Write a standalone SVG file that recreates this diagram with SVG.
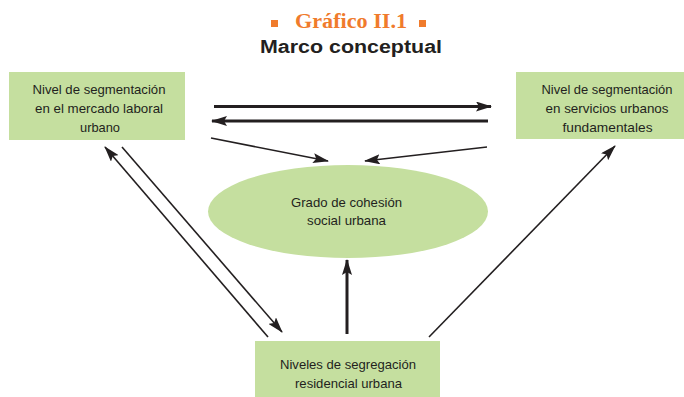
<svg xmlns="http://www.w3.org/2000/svg" width="684" height="397" viewBox="0 0 684 397">
<style>
.box{fill:#c5df9f;stroke:none}
.lbl{font-family:"Liberation Sans",Arial,sans-serif;font-size:13.4px;fill:#231f20;text-anchor:middle}
.thick{stroke:#231f20;stroke-width:3;fill:none}
.thin{stroke:#231f20;stroke-width:1.6;fill:none}
</style>
<defs>
<marker id="ah" viewBox="0 0 16 10" refX="15" refY="5" markerWidth="17" markerHeight="10" orient="auto" markerUnits="userSpaceOnUse">
<path d="M0,0 L16,5 L0,10 L3,5 z" fill="#231f20"/>
</marker>
<marker id="ahs" viewBox="0 0 16 10" refX="15" refY="5" markerWidth="16" markerHeight="10" orient="auto" markerUnits="userSpaceOnUse">
<path d="M0,0 L16,5 L0,10 L3,5 z" fill="#231f20"/>
</marker>
</defs>
<rect width="684" height="397" fill="#ffffff"/>
<g id="title">
<rect x="271" y="20" width="7" height="7" fill="#f07b2c"/>
<rect x="419" y="20" width="7" height="7" fill="#f07b2c"/>
<text x="351" y="27.5" font-family="'Liberation Serif','Times New Roman',serif" font-weight="bold" font-size="20" fill="#f07b2c" text-anchor="middle" textLength="112" lengthAdjust="spacingAndGlyphs">Gráfico II.1</text>
<text x="351" y="52.5" font-family="'Liberation Sans',Arial,sans-serif" font-weight="bold" font-size="18" fill="#231f20" text-anchor="middle" textLength="182" lengthAdjust="spacingAndGlyphs">Marco conceptual</text>
</g>
<g id="node-laboral">
<rect class="box" x="9" y="72" width="176" height="68"/>
<text class="lbl" x="99" y="94" textLength="133" lengthAdjust="spacingAndGlyphs">Nivel de segmentación</text>
<text class="lbl" x="99" y="113" textLength="128" lengthAdjust="spacingAndGlyphs">en el mercado laboral</text>
<text class="lbl" x="100" y="132" textLength="40" lengthAdjust="spacingAndGlyphs">urbano</text>
</g>
<g id="node-servicios">
<rect class="box" x="516" y="72" width="168" height="67"/>
<text class="lbl" x="607" y="94" textLength="131" lengthAdjust="spacingAndGlyphs">Nivel de segmentación</text>
<text class="lbl" x="607" y="113" textLength="123" lengthAdjust="spacingAndGlyphs">en servicios urbanos</text>
<text class="lbl" x="607.5" y="132" textLength="90" lengthAdjust="spacingAndGlyphs">fundamentales</text>
</g>
<g id="node-cohesion">
<ellipse class="box" cx="348" cy="211.5" rx="140" ry="46.5"/>
<text class="lbl" x="346.5" y="207" textLength="111" lengthAdjust="spacingAndGlyphs">Grado de cohesión</text>
<text class="lbl" x="346.5" y="225" textLength="79" lengthAdjust="spacingAndGlyphs">social urbana</text>
</g>
<g id="node-segregacion">
<rect class="box" x="255" y="341" width="185" height="56"/>
<text class="lbl" x="348" y="369" textLength="136" lengthAdjust="spacingAndGlyphs">Niveles de segregación</text>
<text class="lbl" x="348.5" y="388" textLength="107" lengthAdjust="spacingAndGlyphs">residencial urbana</text>
</g>
<g id="connectors">
<line class="thick" x1="214" y1="106.5" x2="491" y2="106.5" marker-end="url(#ah)"/>
<line class="thick" x1="488" y1="121" x2="212" y2="121" marker-end="url(#ah)"/>
<line class="thin" x1="211" y1="138" x2="328" y2="161" marker-end="url(#ahs)"/>
<line class="thin" x1="487" y1="147" x2="365" y2="161" marker-end="url(#ahs)"/>
<line class="thin" x1="268" y1="337" x2="105" y2="147" marker-end="url(#ahs)"/>
<line class="thin" x1="122" y1="147" x2="282" y2="332" marker-end="url(#ahs)"/>
<line class="thick" x1="347" y1="334" x2="347" y2="260" stroke-width="3.5" marker-end="url(#ah)"/>
<line class="thin" x1="429" y1="337" x2="615" y2="146" marker-end="url(#ahs)"/>
</g>
</svg>
